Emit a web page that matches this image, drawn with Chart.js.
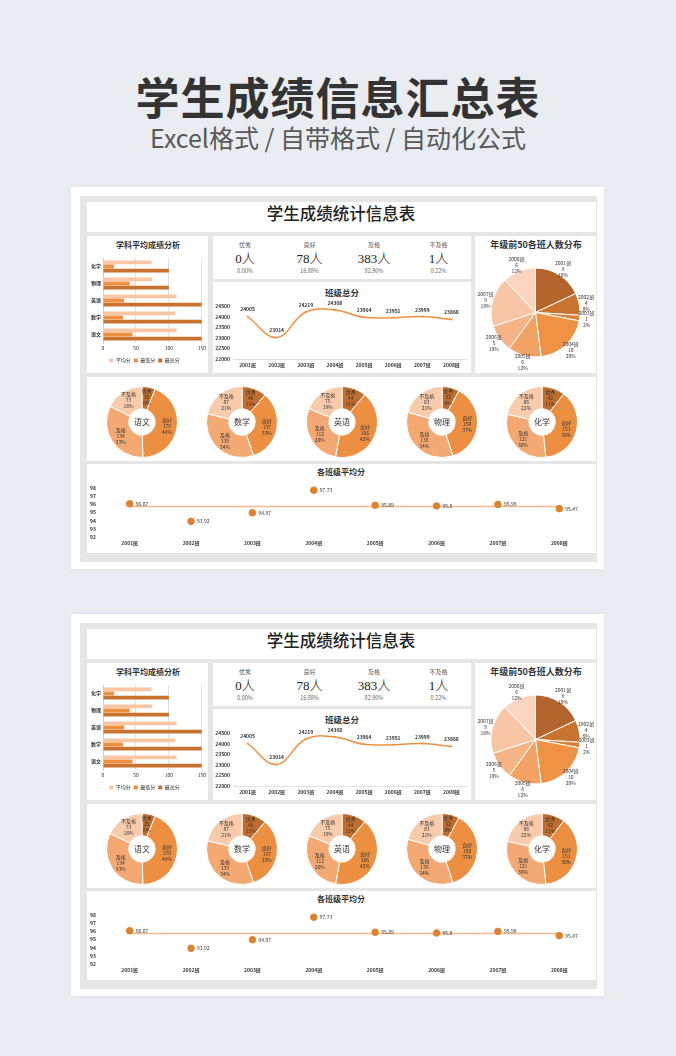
<!DOCTYPE html>
<html lang="zh-CN">
<head>
<meta charset="utf-8">
<title>学生成绩信息汇总表</title>
<script src="https://cdn.jsdelivr.net/npm/chart.js@4.4.1/dist/chart.umd.min.js"></script>
<style>
  html, body { margin: 0; padding: 0; }
  body {
    width: 676px; height: 1056px; position: relative; overflow: hidden;
    background: #e9ecf1;
    font-family: "Noto Sans CJK SC", "Noto Sans", sans-serif; color: #333;
  }
  .t { position: absolute; text-align: center; white-space: nowrap; }
  .card { position: absolute; background: #fff; box-shadow: 0 0 6px rgba(0,0,0,0.05); }
  .gray { position: absolute; background: #e6e6e6; }
  .panel { position: absolute; background: #fff; }
  canvas { position: absolute; }
</style>
</head>
<body>

<div class="t" style="left:0;width:676px;top:66px;font-size:44px;line-height:60px;font-weight:700;color:#333;letter-spacing:1px;">学生成绩信息汇总表</div>
<div class="t" style="left:0;width:676px;top:121px;font-size:25px;line-height:32px;color:#585858;">Excel格式 / 自带格式 / 自动化公式</div>

<script>
// =========================================================
// 1. DATOS
// =========================================================

// Barras: 学科平均成绩分析
const subjects = ['化学', '物理', '英语', '数学', '语文'];
const avgScore = [73.6, 74.6, 111.7, 109.6, 111.7];
const minScore = [16.8, 40.6, 32, 30.5, 44.7];
const maxScore = [100, 100, 150, 150, 150];

// Resumen por nivel
const levelNames = ['优秀', '良好', '及格', '不及格'];
const levelCounts = [0, 78, 383, 1];
const levelPct = ['0.00%', '16.88%', '82.90%', '0.22%'];

// Clases
const classes = ['2001班', '2002班', '2003班', '2004班', '2005班', '2006班', '2007班', '2008班'];
const classTotals = [24005, 23014, 24219, 24308, 23964, 23951, 23999, 23868];
const top50Counts = [9, 4, 1, 10, 6, 5, 9, 6];
const classAvg = [96.07, 93.92, 94.97, 97.73, 95.89, 95.8, 95.99, 95.47];
const gradeAvg = [95.73, 95.73, 95.73, 95.73, 95.73, 95.73, 95.73, 95.73];

// Donas por materia (优秀, 良好, 及格, 不及格)
const donutSubjects = ['语文', '数学', '英语', '物理', '化学'];
const yuwenLevels = [25, 179, 134, 73];
const shuxueLevels = [46, 137, 139, 87];
const yingyuLevels = [44, 166, 112, 75];
const wuliLevels = [32, 150, 139, 83];
const huaxueLevels = [42, 151, 121, 86];
const donutData = [yuwenLevels, shuxueLevels, yingyuLevels, wuliLevels, huaxueLevels];

// Colores
const pieColors = ['#b4652e', '#c9732f', '#dc8036', '#ef9244', '#f2a264', '#f5b486', '#f8c5a5', '#fad6c2'];
const levelColors = ['#c06d2d', '#ec8f41', '#f3a971', '#f8cbab'];

Chart.defaults.font.family = '"Noto Sans CJK SC", "Noto Sans", sans-serif';
Chart.defaults.color = '#333';
Chart.defaults.animation = false;

// =========================================================
// 2. AYUDANTES DEL DOM
// =========================================================
function add(cls, x, y, w, h) {
    const d = document.createElement('div');
    d.className = cls;
    Object.assign(d.style, { left: x + 'px', top: y + 'px', width: w + 'px', height: h + 'px' });
    document.body.appendChild(d);
    return d;
}

function label(text, cx, cy, size, css) {
    const d = add('t', cx - 120, cy - size, 240, size * 2);
    Object.assign(d.style, { fontSize: size + 'px', lineHeight: (size * 2) + 'px' }, css || {});
    d.textContent = text;
    return d;
}

function canvasAt(x, y, w, h) {
    const c = document.createElement('canvas');
    c.width = w; c.height = h;
    c.style.left = x + 'px'; c.style.top = y + 'px';
    document.body.appendChild(c);
    return c;
}

// etiquetas de porciones (nombre / valor / %)
function sliceLabels(dist) {
    return {
        id: 'sliceLabels',
        afterDatasetsDraw(chart) {
            const ctx = chart.ctx;
            const ds = chart.data.datasets[0];
            const total = ds.data.reduce((a, b) => a + b, 0);
            ctx.save();
            ctx.font = '5px "Noto Sans CJK SC"';
            ctx.fillStyle = '#333';
            ctx.textAlign = 'center';
            ctx.textBaseline = 'middle';
            chart.getDatasetMeta(0).data.forEach((arc, i) => {
                const p = arc.getProps(['x', 'y', 'startAngle', 'endAngle', 'innerRadius', 'outerRadius'], true);
                const mid = (p.startAngle + p.endAngle) / 2;
                const r = dist(p);
                const x = p.x + Math.cos(mid) * r;
                const y = p.y + Math.sin(mid) * r;
                const lines = [chart.data.labels[i], String(ds.data[i]), Math.round(ds.data[i] / total * 100) + '%'];
                lines.forEach((t, k) => ctx.fillText(t, x, y + (k - 1) * 6));
            });
            ctx.restore();
        }
    };
}

// =========================================================
// 3. TABLERO (se dibuja dos veces)
// =========================================================
function makeDash(dy) {
    add('card', 71, 187 + dy, 533, 382);
    add('gray', 80, 196 + dy, 517, 366);

    add('panel', 87, 202 + dy, 509, 30);
    add('panel', 87, 236 + dy, 121, 137);
    add('panel', 213, 236 + dy, 258, 43);
    add('panel', 213, 282 + dy, 258, 91);
    add('panel', 475, 236 + dy, 121, 137);
    add('panel', 87, 377 + dy, 509, 84);
    add('panel', 87, 464 + dy, 509, 89);

    label('学生成绩统计信息表', 341, 213 + dy, 16.5, { fontWeight: 500, color: '#222' });
    label('学科平均成绩分析', 148, 245 + dy, 8, { fontWeight: 600 });
    label('班级总分', 342, 292 + dy, 8.5, { fontWeight: 600 });
    label('年级前50各班人数分布', 536, 245 + dy, 9, { fontWeight: 600 });
    label('各班级平均分', 341, 472 + dy, 8, { fontWeight: 600 });

    // --- resumen de niveles ---
    levelNames.forEach((n, i) => {
        const cx = 245 + i * 64.5;
        label(n, cx, 244.5 + dy, 6, { color: '#555' });
        label(levelCounts[i] + '人', cx, 258.5 + dy, 13, { fontFamily: '"Liberation Serif", "Noto Sans CJK SC", serif', color: '#222', fontWeight: 300 });
        label(levelPct[i], cx, 271 + dy, 5.5, { color: '#666' });
    });

    // --- barras horizontales ---
    new Chart(canvasAt(87, 250 + dy, 121, 123), {
        type: 'bar',
        data: {
            labels: subjects,
            datasets: [
                { label: '平均分', data: avgScore, backgroundColor: '#f9c5a3' },
                { label: '最低分', data: minScore, backgroundColor: '#f08f3e' },
                { label: '最高分', data: maxScore, backgroundColor: '#c9712f' }
            ]
        },
        options: {
            indexAxis: 'y',
            responsive: false,
            layout: { padding: { top: 8, right: 6, bottom: 0, left: 0 } },
            datasets: { bar: { categoryPercentage: 0.72, barPercentage: 0.92 } },
            plugins: {
                tooltip: { enabled: false },
                legend: {
                    position: 'bottom',
                    labels: { boxWidth: 4, boxHeight: 4, padding: 3, font: { size: 5 } }
                }
            },
            scales: {
                x: {
                    min: 0, max: 150,
                    ticks: { stepSize: 50, font: { size: 5 }, padding: 2 },
                    grid: { color: '#e2e2e2', drawTicks: false },
                    border: { display: false },
                    afterFit(s) { s.height = 12; }
                },
                y: {
                    ticks: { font: { size: 5, weight: 'bold' }, padding: 2 },
                    grid: { display: false, drawTicks: false },
                    border: { color: '#cfcfcf' },
                    afterFit(s) { s.width = 16; }
                }
            }
        }
    });

    // --- total por clase (línea suave) ---
    new Chart(canvasAt(213, 298 + dy, 258, 75), {
        type: 'line',
        data: {
            labels: classes,
            datasets: [{
                data: classTotals,
                borderColor: '#f0913f', backgroundColor: '#f0913f',
                borderWidth: 1.5, tension: 0.4,
                pointRadius: 1.3, pointStyle: 'crossRot', pointBorderWidth: 1
            }]
        },
        options: {
            responsive: false,
            layout: { padding: { top: 8, right: 5, bottom: 0, left: 0 } },
            plugins: { legend: { display: false }, tooltip: { enabled: false } },
            scales: {
                x: {
                    offset: true,
                    ticks: { font: { size: 5, weight: 'bold' }, padding: 3 },
                    grid: { display: false, drawTicks: false },
                    border: { color: '#e0e0e0' },
                    afterFit(s) { s.height = 14; }
                },
                y: {
                    min: 22000, max: 24500,
                    ticks: { stepSize: 500, autoSkip: false, font: { size: 5, weight: 'bold' }, padding: 3,
                             callback: v => String(v) },
                    grid: { display: false, drawTicks: false },
                    border: { display: false },
                    afterFit(s) { s.width = 20; }
                }
            }
        },
        plugins: [{
            id: 'totalLabels',
            afterDatasetsDraw(chart) {
                const ctx = chart.ctx;
                const vals = chart.data.datasets[0].data;
                ctx.save();
                ctx.font = 'bold 5px "Noto Sans CJK SC"';
                ctx.fillStyle = '#333';
                ctx.textAlign = 'center';
                ctx.textBaseline = 'middle';
                chart.getDatasetMeta(0).data.forEach((pt, i) => ctx.fillText(String(vals[i]), pt.x, pt.y - 7));
                ctx.restore();
            }
        }]
    });

    // --- pastel: top 50 por clase ---
    new Chart(canvasAt(475, 252 + dy, 121, 121), {
        type: 'pie',
        data: {
            labels: classes,
            datasets: [{ data: top50Counts, backgroundColor: pieColors, borderColor: '#fff', borderWidth: 1 }]
        },
        options: {
            responsive: false,
            layout: { padding: 15.5 },
            plugins: { legend: { display: false }, tooltip: { enabled: false } }
        },
        plugins: [sliceLabels(p => p.outerRadius + 7)]
    });

    // --- donas por materia ---
    donutSubjects.forEach((subj, k) => {
        const cx = 142 + k * 100;
        new Chart(canvasAt(cx - 40, 382 + dy, 80, 80), {
            type: 'doughnut',
            data: {
                labels: levelNames,
                datasets: [{ data: donutData[k], backgroundColor: levelColors, borderColor: '#fff', borderWidth: 1 }]
            },
            options: {
                responsive: false,
                cutout: '37%',
                layout: { padding: 4 },
                plugins: { legend: { display: false }, tooltip: { enabled: false } }
            },
            plugins: [
                sliceLabels(p => (p.innerRadius + p.outerRadius) / 2 + 1),
                {
                    id: 'centerText',
                    afterDatasetsDraw(chart) {
                        const ctx = chart.ctx;
                        const a = chart.getDatasetMeta(0).data[0];
                        ctx.save();
                        ctx.font = '8px "Noto Sans CJK SC"';
                        ctx.fillStyle = '#333';
                        ctx.textAlign = 'center';
                        ctx.textBaseline = 'middle';
                        ctx.fillText(subj, a.x, a.y);
                        ctx.restore();
                    }
                }
            ]
        });
    });

    // --- promedio por clase ---
    new Chart(canvasAt(87, 480 + dy, 509, 73), {
        type: 'line',
        data: {
            labels: classes,
            datasets: [
                {
                    data: classAvg, showLine: false, clip: false,
                    pointRadius: 3.3, pointBackgroundColor: '#e0812e', pointBorderColor: '#e0812e'
                },
                {
                    data: gradeAvg, borderColor: '#f6b88f', borderWidth: 1.5, pointRadius: 0
                }
            ]
        },
        options: {
            responsive: false,
            layout: { padding: { top: 8, right: 6, bottom: 0, left: 0 } },
            plugins: { legend: { display: false }, tooltip: { enabled: false } },
            scales: {
                x: {
                    offset: true,
                    ticks: { font: { size: 5, weight: 'bold' }, padding: 3 },
                    grid: { display: false, drawTicks: false },
                    border: { display: false },
                    afterFit(s) { s.height = 16; }
                },
                y: {
                    min: 92, max: 98,
                    ticks: { stepSize: 1, autoSkip: false, font: { size: 5, weight: 'bold' }, padding: 3 },
                    grid: { display: false, drawTicks: false },
                    border: { display: false },
                    afterFit(s) { s.width = 12; }
                }
            }
        },
        plugins: [{
            id: 'avgLabels',
            afterDatasetsDraw(chart) {
                const ctx = chart.ctx;
                const vals = chart.data.datasets[0].data;
                ctx.save();
                ctx.font = '5px "Noto Sans CJK SC"';
                ctx.fillStyle = '#333';
                ctx.textAlign = 'left';
                ctx.textBaseline = 'middle';
                chart.getDatasetMeta(0).data.forEach((pt, i) => ctx.fillText(String(vals[i]), pt.x + 6, pt.y));
                ctx.restore();
            }
        }]
    });
}

makeDash(0);
makeDash(427);
</script>
</body>
</html>
